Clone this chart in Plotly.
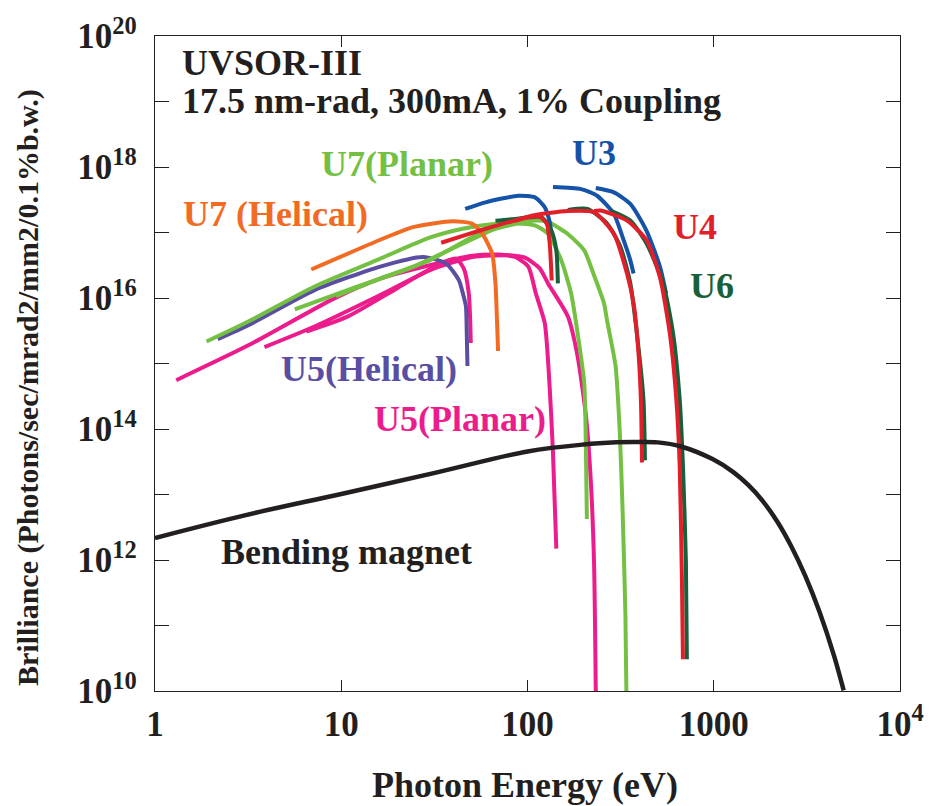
import plotly.graph_objects as go

# ---------------- data (Photon energy in eV, brilliance) ----------------
bm_E = [1, 3.07, 10, 32.7, 100, 200, 300, 371, 500, 667, 985, 1279, 1526, 1824, 2200, 2598, 3100, 3704, 4426, 4984]
bm_B = [2.17e12, 4.85e12, 1.02e13, 2.18e13, 4.54e13, 5.8e13, 6.25e13, 6.32e13, 6.25e13, 5.41e13, 3.47e13,
        2.18e13, 1.41e13, 8.08e12, 3.8e12, 1.65e12, 5.71e11, 1.59e11, 3.44e10, 1.02e10]

u5p_a_E = [1.30, 3.19, 9.18, 16.2, 29.8, 50.6, 70.0, 85.9, 101, 110.9, 123.8, 131.6, 137.0, 142.8]
u5p_a_B = [5.56e14, 1.91e15, 9.86e15, 1.98e16, 3.16e16, 4.43e16, 4.6e16, 4.23e16, 3.02e16, 1.17e16, 4.12e15,
           4.25e14, 4.39e13, 1.49e12]
u5p_b_E = [3.87, 7.19, 16.2, 29.8, 50.6, 79.1, 97, 116.5, 128.9, 164.6, 185.8, 205.9, 218.9, 227.8, 232.6]
u5p_b_B = [1.78e15, 3.67e15, 1.11e16, 2.65e16, 4.23e16, 4.5e16, 4.13e16, 2.81e16, 1.67e16, 5.26e15, 1.29e15,
           1.6e14, 1.54e13, 8.46e11, 1.0e10]
u5p_c_E = [6.49, 10.8, 19.9, 32.4, 41.3, 45.5, 48.4, 49.3, 49.6]
u5p_c_B = [3.08e15, 5.2e15, 1.4e16, 3.13e16, 3.99e16, 2.81e16, 1.17e16, 4.12e15, 2.05e15]

u5h_E = [2.17, 3.19, 7.19, 16.2, 27.5, 36.6, 42.8, 45.0, 46.7, 47.2, 47.6]
u5h_B = [2.35e15, 3.88e15, 1.32e16, 3.02e16, 4.23e16, 3.35e16, 1.87e16, 1.17e16, 7.46e15, 2.9e15, 9.17e14]

u7h_E = [6.90, 16.2, 24.3, 39.7, 50.6, 57.2, 64.6, 67.3, 68.7, 69.5]
u7h_B = [2.72e16, 7.75e16, 1.21e17, 1.49e17, 1.36e17, 9.56e16, 4.75e16, 1.67e16, 4.0e15, 1.55e15]

u7p_a_E = [1.89, 3.19, 7.19, 16.2, 29.8, 44.8, 67.3, 85.9, 109.6, 128.9, 151.8, 171.5, 185.8, 201.6, 205.9, 208.4]
u7p_a_B = [2.17e15, 4.42e15, 1.50e16, 3.99e16, 8.32e16, 1.14e17, 1.36e17, 1.39e17, 1.28e17, 9.56e16, 3.76e16,
           1.17e16, 2.9e15, 5.06e14, 4.87e13, 4.22e12]
u7p_b_E = [5.63, 10.8, 24.3, 44.8, 67.3, 109.6, 128.9, 163.9, 201.6, 227.8, 257.5, 267, 297, 313, 324.6, 335.5, 339.6]
u7p_b_B = [6.72e15, 1.32e16, 2.99e16, 6.74e16, 1.14e17, 1.52e17, 1.45e17, 9.56e16, 5.33e16, 2.2e16, 8.28e15,
           4.62e15, 9.17e14, 8.82e13, 4.85e12, 1.47e11, 1.0e10]
u7p_c_E = [9.36, 16.2, 29.8, 50.6, 76.0, 97.0]
u7p_c_B = [1.07e16, 1.98e16, 3.76e16, 8.51e16, 1.36e17, 1.45e17]

u3_a_E = [46.3, 59.5, 89.1, 109.6, 123.8, 131.6, 134.4]
u3_a_B = [2.29e17, 2.89e17, 3.64e17, 3.44e17, 2.43e17, 1.45e17, 9.56e16]
u3_b_E = [137.0, 193.7, 236.4, 290.9, 328.6, 356.6, 371.1]
u3_b_B = [4.94e17, 4.60e17, 3.64e17, 1.92e17, 7.56e16, 3.76e16, 2.36e16]
u3_c_E = [232.6, 290.9, 356.6, 435, 514, 555]
u3_c_B = [4.77e17, 4.10e17, 2.73e17, 1.07e17, 3.02e16, 1.17e16]

u6_a_E = [67.3, 85.9, 118.9, 134.4, 142.8, 145.6]
u6_a_B = [1.51e17, 1.61e17, 1.71e17, 1.07e17, 5.33e16, 1.67e16]
u6_b_E = [164.6, 210, 268.1, 315.6, 356.6, 386.4, 419.3, 427]
u6_b_B = [2.21e17, 2.29e17, 1.36e17, 6.01e16, 1.67e16, 2.9e15, 2.82e14, 3.32e13]
u6_c_E = [279.4, 356.6, 436.5, 535.1, 604.7, 656.3, 683.2, 708.7, 717.3]
u6_c_B = [2.16e17, 1.52e17, 6.74e16, 1.67e16, 2.9e15, 2.82e14, 2.78e13, 9.4e11, 3.06e10]

u4_a_E = [34.4, 46.7, 67.3, 97.0, 116.5, 126.9, 131.6, 134.9]
u4_a_B = [6.98e16, 9.23e16, 1.26e17, 1.67e17, 1.73e17, 1.36e17, 6.74e16, 1.85e16]
u4_b_E = [85.9, 105, 164, 227.8, 290.9, 342.1, 371.1, 394.5, 406.7, 411.7]
u4_b_B = [1.51e17, 1.81e17, 2.13e17, 2.04e17, 9.56e16, 2.36e16, 8.28e15, 1.44e15, 2.52e14, 3.09e13]
u4_c_E = [227.8, 247.3, 342.1, 436.5, 514, 580.8, 629.6, 656.3, 674.9, 683.2]
u4_c_B = [2.13e17, 2.16e17, 1.52e17, 7.56e16, 2.07e16, 2.9e15, 2.82e14, 2.75e13, 4.67e11, 3.06e10]

x_tickvals = [1, 10, 100, 1000, 10000]
x_ticktext = ["1", "10", "100", "1000", "10<sup>4</sup>"]
y_tickvals = [10.0 ** k for k in range(10, 21)]
y_ticktext = ["10<sup>%d</sup>" % k if k % 2 == 0 else "" for k in range(10, 21)]

# ---------------- styling ----------------
PINK = "#EC1C8C"
PURPLE = "#5A4EA2"
ORANGE = "#F26B23"
LGREEN = "#74C043"
BLUE = "#1553A8"
DGREEN = "#17603A"
RED = "#E11F2A"
BLACK = "#231F20"
FONT = "Liberation Serif"

series = [
    (u5p_a_E, u5p_a_B, PINK), (u5p_b_E, u5p_b_B, PINK), (u5p_c_E, u5p_c_B, PINK),
    (u5h_E, u5h_B, PURPLE),
    (u7p_a_E, u7p_a_B, LGREEN), (u7p_b_E, u7p_b_B, LGREEN), (u7p_c_E, u7p_c_B, LGREEN),
    (u7h_E, u7h_B, ORANGE),
    (u3_a_E, u3_a_B, BLUE), (u3_b_E, u3_b_B, BLUE), (u3_c_E, u3_c_B, BLUE),
    (u6_a_E, u6_a_B, DGREEN), (u6_b_E, u6_b_B, DGREEN), (u6_c_E, u6_c_B, DGREEN),
    (u4_a_E, u4_a_B, RED), (u4_b_E, u4_b_B, RED), (u4_c_E, u4_c_B, RED),
]

fig = go.Figure()
for xs, ys, col in series:
    fig.add_trace(go.Scatter(x=xs, y=ys, mode="lines",
                             line=dict(color=col, width=4, shape="spline", smoothing=0.6),
                             showlegend=False, hoverinfo="skip"))
fig.add_trace(go.Scatter(x=bm_E, y=bm_B, mode="lines",
                         line=dict(color=BLACK, width=4.5, shape="spline", smoothing=1.0),
                         showlegend=False, hoverinfo="skip"))

def lab(text, px, py, color, size=36):
    fig.add_annotation(text=text, xref="paper", yref="paper",
                       x=(px - 155) / 755, y=(691 - py) / 660,
                       xanchor="left", yanchor="middle", showarrow=False,
                       font=dict(family=FONT, size=size, color=color, weight="bold"))

lab("UVSOR-III", 180, 58, BLACK)
lab("17.5 nm-rad, 300mA, 1% Coupling", 180, 96, BLACK)
lab("U3", 576, 149, BLUE)
lab("U7(Planar)", 321, 160, LGREEN)
lab("U7 (Helical)", 181, 210, ORANGE)
lab("U4", 678, 223, RED)
lab("U6", 695, 283, DGREEN)
lab("U5(Helical)", 281, 367, PURPLE)
lab("U5(Planar)", 375, 417, PINK)
lab("Bending magnet", 220, 551, BLACK)

fig.add_annotation(text="Brilliance (Photons/sec/mrad2/mm2/0.1%b.w.)", xref="paper", yref="paper",
                   x=(27 - 155) / 755, y=(691 - 385) / 660, xanchor="center", yanchor="middle",
                   textangle=-90, showarrow=False,
                   font=dict(family=FONT, size=30, color=BLACK, weight="bold"))
fig.add_annotation(text="Photon Energy (eV)", xref="paper", yref="paper",
                   x=(530 - 155) / 755, y=(691 - 786) / 660, xanchor="center", yanchor="middle",
                   showarrow=False, font=dict(family=FONT, size=36, color=BLACK, weight="bold"))

axis_common = dict(showline=True, linecolor=BLACK, linewidth=1.3, mirror="ticks",
                   ticks="inside", tickcolor=BLACK, tickwidth=1.3, showgrid=False, zeroline=False,
                   tickfont=dict(family=FONT, size=35, color=BLACK, weight="bold"))

fig.update_xaxes(type="log", range=[0, 4], tickvals=x_tickvals, ticktext=x_ticktext,
                 ticklen=11, ticklabelstandoff=2, **axis_common)
fig.update_yaxes(type="log", range=[10, 20], tickvals=y_tickvals, ticktext=y_ticktext,
                 ticklen=14, ticklabelstandoff=10, **axis_common)

fig.update_layout(width=936, height=806, margin=dict(l=155, r=26, t=31, b=115),
                  paper_bgcolor="white", plot_bgcolor="white", showlegend=False)

fig.write_html("out.html")
